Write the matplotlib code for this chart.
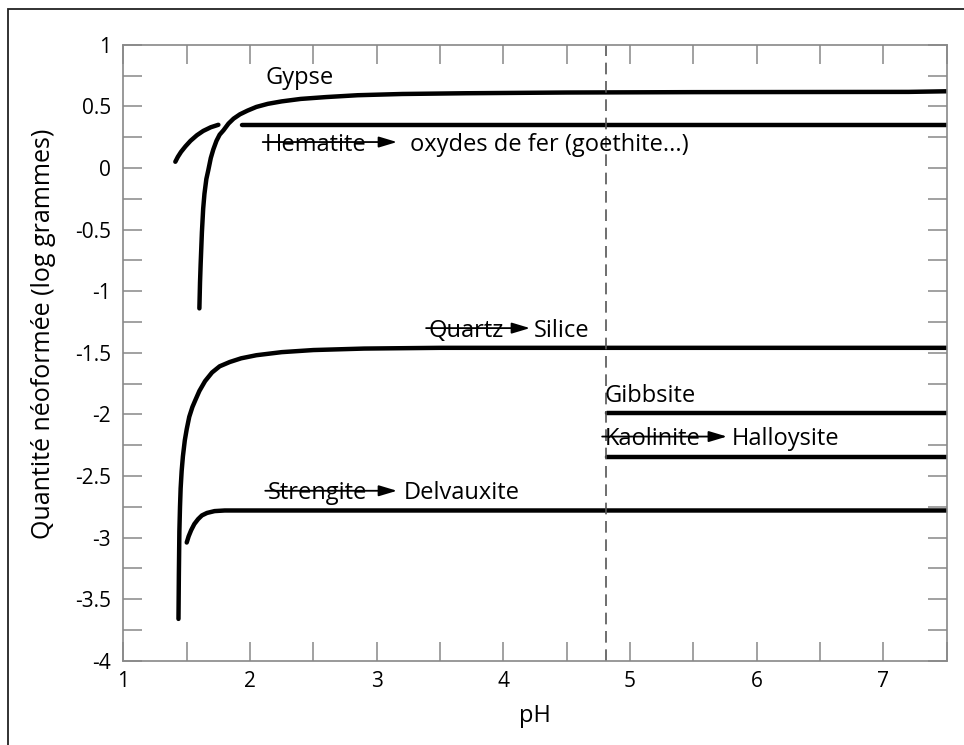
import matplotlib.pyplot as plt
from matplotlib.patches import Rectangle
from matplotlib.ticker import MultipleLocator

plt.rcParams['font.family'] = ['Open Sans', 'DejaVu Sans']

# courbes (pH, log grammes)
gypse_x = [1.600, 1.605, 1.610, 1.615, 1.620, 1.630, 1.640, 1.655, 1.670, 1.690, 1.710, 1.735,
           1.760, 1.790, 1.830, 1.870, 1.920, 1.980, 2.050, 2.140, 2.250, 2.400, 2.600, 2.850,
           3.200, 3.700, 4.500, 5.500, 7.200, 7.500]
gypse_y = [-1.14, -0.93, -0.78, -0.65, -0.52, -0.33, -0.21, -0.09, -0.02, 0.08, 0.15, 0.22,
           0.27, 0.305, 0.36, 0.40, 0.435, 0.465, 0.495, 0.52, 0.54, 0.56, 0.575, 0.59,
           0.60, 0.606, 0.612, 0.615, 0.617, 0.622]

hematite_arc_x = [1.410, 1.430, 1.455, 1.490, 1.530, 1.580, 1.630, 1.690, 1.750]
hematite_arc_y = [0.05, 0.09, 0.13, 0.175, 0.22, 0.265, 0.30, 0.33, 0.35]
hematite_x = [1.935, 7.5]
hematite_y = [0.352, 0.352]

silice_x = [1.435, 1.438, 1.442, 1.447, 1.452, 1.460, 1.470, 1.485, 1.500, 1.520, 1.545, 1.570,
            1.600, 1.645, 1.700, 1.760, 1.840, 1.930, 2.050, 2.250, 2.500, 2.900, 3.500, 7.500]
silice_y = [-3.66, -3.30, -2.95, -2.75, -2.60, -2.46, -2.34, -2.21, -2.12, -2.02, -1.94, -1.88,
            -1.81, -1.73, -1.66, -1.61, -1.575, -1.545, -1.52, -1.495, -1.478, -1.466, -1.46, -1.46]

delvauxite_x = [1.500, 1.515, 1.535, 1.560, 1.590, 1.620, 1.660, 1.720, 1.800, 7.5]
delvauxite_y = [-3.04, -2.99, -2.94, -2.89, -2.85, -2.82, -2.80, -2.785, -2.78, -2.78]

gibbsite_x = [4.82, 7.5]
gibbsite_y = [-1.99, -1.99]
halloysite_x = [4.82, 7.5]
halloysite_y = [-2.35, -2.35]

ph_limite = 4.81

fig = plt.figure(figsize=(9.64, 7.45), dpi=100)
ax = fig.add_axes([0.128, 0.113, 0.854, 0.827])

# cadre autour de la figure
fig.patches.append(Rectangle((8 / 964, -0.1), 1.2, 0.1 + 1 - 9 / 745, transform=fig.transFigure,
                             fill=False, edgecolor='#222222', linewidth=1.3))

lw = 3.2
for xs, ys in [(hematite_arc_x, hematite_arc_y), (hematite_x, hematite_y), (gypse_x, gypse_y),
               (silice_x, silice_y), (delvauxite_x, delvauxite_y),
               (gibbsite_x, gibbsite_y), (halloysite_x, halloysite_y)]:
    ax.plot(xs, ys, color='black', lw=lw, solid_capstyle='round', solid_joinstyle='round')

ax.axvline(ph_limite, color='#555555', lw=1.2, linestyle=(0, (7, 4)))

ax.set_xlim(1, 7.5)
ax.set_ylim(-4, 1)
ax.xaxis.set_major_locator(MultipleLocator(1))
ax.xaxis.set_minor_locator(MultipleLocator(0.5))
ax.yaxis.set_major_locator(MultipleLocator(0.5))
ax.yaxis.set_minor_locator(MultipleLocator(0.25))
ax.yaxis.set_major_formatter(plt.FuncFormatter(lambda v, p: ('%g' % v)))
for w in ['major', 'minor']:
    ax.tick_params(which=w, direction='in', length=14, width=1.1, color='#888888',
                   top=True, right=True, labelsize=15)
ax.tick_params(axis='x', which='major', pad=7)
ax.tick_params(axis='y', which='major', pad=9)
for s in ax.spines.values():
    s.set_color('#888888')
    s.set_linewidth(1.2)

ax.set_xlabel('pH', fontsize=17, labelpad=9)
ax.set_ylabel('Quantité néoformée (log grammes)', fontsize=18)
ax.yaxis.set_label_coords(-0.082, 0.53)

fs = 17
ax.text(2.12, 0.73, 'Gypse', fontsize=fs, va='center')
ax.text(4.80, -1.85, 'Gibbsite', fontsize=fs, va='center')

# mineral barre -> nouveau mineral (texte, x, y, nouveau, x nouveau, pointe de fleche)
barres = [
    ('Hematite', 2.12, 0.19, 'oxydes de fer (goethite...)', 3.26, 3.16),
    ('Quartz', 3.41, -1.32, 'Silice', 4.24, 4.21),
    ('Kaolinite', 4.80, -2.20, 'Halloysite', 5.80, 5.765),
    ('Strengite', 2.14, -2.64, 'Delvauxite', 3.21, 3.16),
]
for ancien, x0, y0, nouveau, x1, xf in barres:
    ax.text(x0, y0, ancien, fontsize=fs, va='center')
    ax.text(x1, y0, nouveau, fontsize=fs, va='center')
    ax.annotate('', xy=(xf, y0 + 0.02), xytext=(x0 - 0.02, y0 + 0.02),
                arrowprops=dict(arrowstyle='-|>,head_length=1.1,head_width=0.33',
                                mutation_scale=10, color='black', lw=1.3,
                                shrinkA=0, shrinkB=0))

fig.savefig('out.png', dpi=100)
